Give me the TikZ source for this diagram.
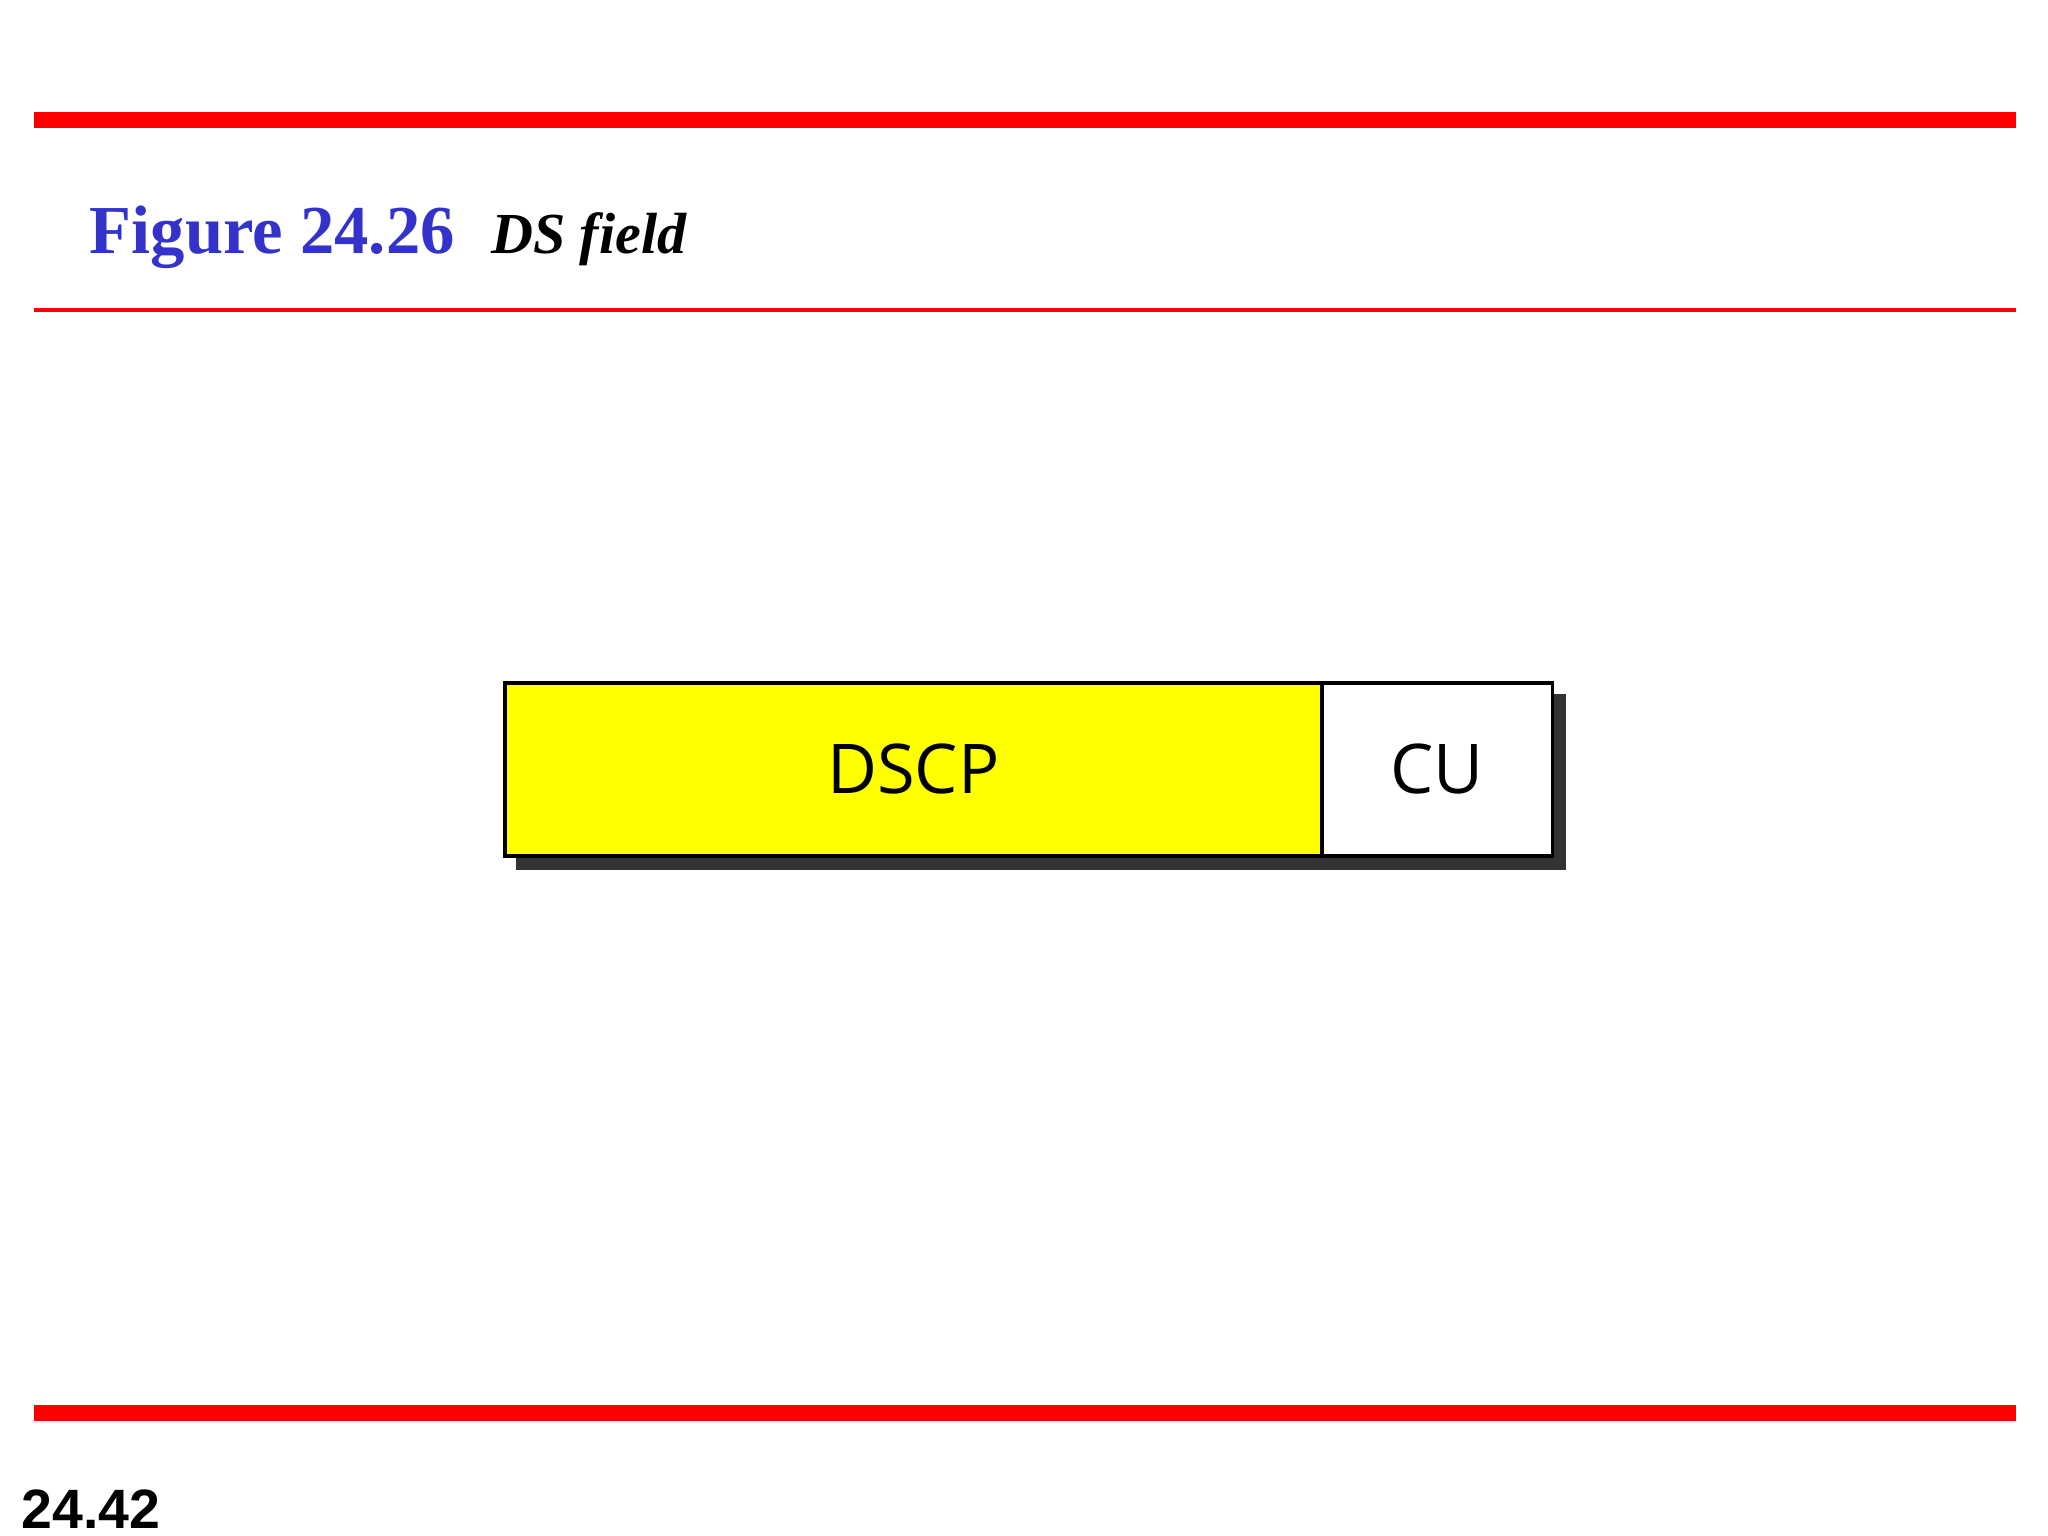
\documentclass[tikz,border=0pt]{standalone}
\usepackage{fontspec}
\setmainfont{Liberation Serif}
\newfontfamily\boxfont{Open Sans}
\newfontfamily\numfont{Liberation Sans}
\definecolor{titleblue}{RGB}{51,51,204}
\definecolor{pureyellow}{RGB}{255,255,0}
\begin{document}
\begin{tikzpicture}[x=1pt,y=-1pt,
  field/.style={draw=black,line width=3pt,minimum height=131pt,inner sep=0pt,font=\boxfont\fontsize{52}{60}\selectfont},
  shadowbox/.style={fill=black!80,draw=none}]
\useasboundingbox (0,0) rectangle (1552,1164);
\fill[red] (26,85) rectangle (1528,97);
\fill[red] (26,233.5) rectangle (1528,236.5);
\fill[red] (26,1065) rectangle (1528,1077);
\node[anchor=base west,inner sep=0pt,text=titleblue,font=\bfseries\fontsize{52}{60}\selectfont] (title) at (68,192) {Figure 24.26};
\node[anchor=base west,inner sep=0pt,font=\bfseries\itshape\fontsize{44}{50}\selectfont] (sub) at (372,192) {DS field};
\fill[black!80] (391,526) rectangle (1187,659);
\node[field,fill=pureyellow,minimum width=619pt,anchor=north west] (dscp) at (381,516) {DSCP};
\node[field,fill=white,minimum width=175pt,anchor=north west] (cu) at (1000,516) {CU};
\node[anchor=base west,inner sep=0pt,font=\numfont\bfseries\fontsize{42}{48}\selectfont] (num) at (16,1158) {24.42};
\end{tikzpicture}
\end{document}
